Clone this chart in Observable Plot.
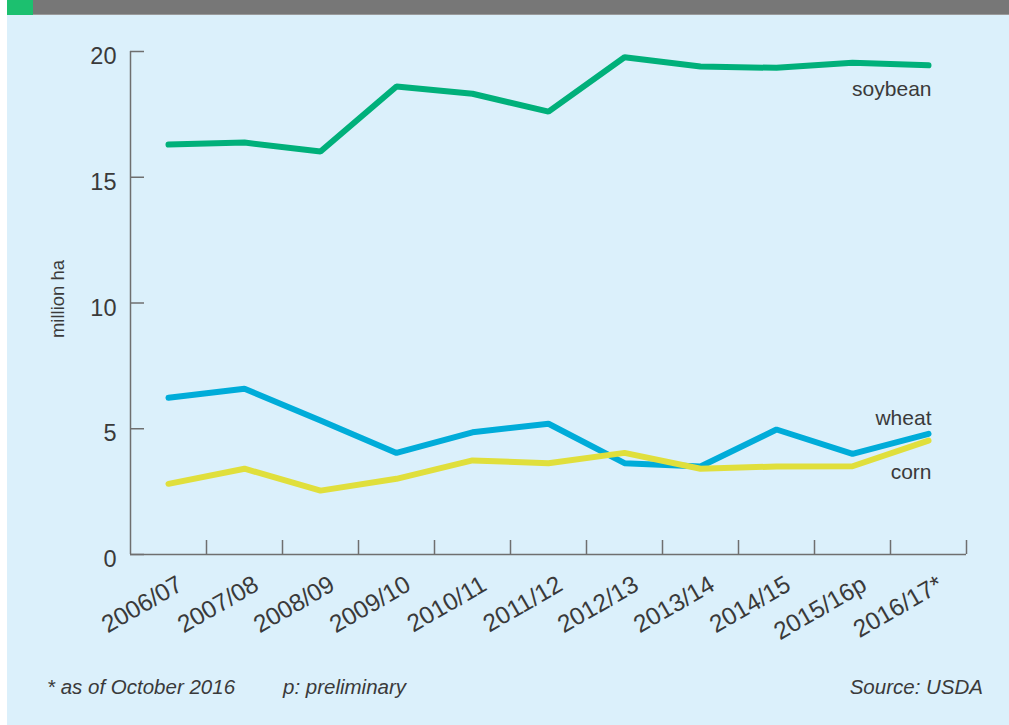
<!DOCTYPE html>
<html>
<head>
<meta charset="utf-8">
<script src="https://cdn.jsdelivr.net/npm/d3@7"></script>
<script src="https://cdn.jsdelivr.net/npm/@observablehq/plot@0.6"></script>
<style>
  html, body { margin: 0; padding: 0; background: #ffffff; }
  #wrap { position: relative; width: 1009px; height: 725px; overflow: hidden; background: #ffffff; font-family: "Liberation Sans", Arial, sans-serif; }
  #panel { position: absolute; left: 7px; top: 0; width: 1002px; height: 725px; background: #dbf0fb; }
  #hbar { position: absolute; left: 33px; top: 0; width: 976px; height: 14px; background: #777777; border-bottom: 1px solid #9a9a9a; }
  #hgreen { position: absolute; left: 7px; top: 0; width: 26px; height: 15px; background: #1cc06f; }
  #chart { position: absolute; left: 0; top: 0; }
  .foot { position: absolute; top: 675px; font-style: italic; font-size: 20.5px; color: #3a3a3a; white-space: nowrap; }
</style>
</head>
<body>
<div id="wrap">
  <div id="panel"></div>
  <div id="hbar"></div>
  <div id="hgreen"></div>
  <div id="chart"></div>
  <div class="foot" style="left:47px;">* as of October 2016</div>
  <div class="foot" style="left:283px;">p: preliminary</div>
  <div class="foot" style="right:26px;">Source: USDA</div>
</div>
<script>
// ---- data (million ha) ----
const seasons = ["2006/07", "2007/08", "2008/09", "2009/10", "2010/11", "2011/12",
                 "2012/13", "2013/14", "2014/15", "2015/16p", "2016/17*"];
const soybean = [16.30, 16.38, 16.02, 18.61, 18.32, 17.61, 19.77, 19.40, 19.35, 19.55, 19.45];
const wheat   = [6.23, 6.59, 5.33, 4.04, 4.86, 5.20, 3.63, 3.50, 4.97, 4.00, 4.80];
const corn    = [2.81, 3.41, 2.54, 3.01, 3.74, 3.63, 4.04, 3.41, 3.50, 3.51, 4.53];
const yTicks  = [0, 5, 10, 15, 20];
const seriesNames = ["soybean", "wheat", "corn"];
const seriesColors = ["#00b07a", "#00acd9", "#e0df3c"];

// ---- derived tables ----
const seriesValues = [soybean, wheat, corn];
const rows = seriesNames.map((name, s) => seriesValues[s].map((v, i) => ({series: name, i, v})));
const boundaries = seasons.map((d, i) => i + 0.5);
const last = seasons.length - 1;

const W = 1009, H = 650;
const mTop = 51, mBottom = 96, mLeft = 130, mRight = 43;
const frameH = H - mTop - mBottom;
const frameW = W - mLeft - mRight;
const axisColor = "#6f6f6f";
const textColor = "#3a3a3a";

// label vertical offsets (px) relative to each series' last point
const labelDy = [24, -16, 32];

const chart = Plot.plot({
  width: W,
  height: H,
  marginTop: mTop,
  marginBottom: mBottom,
  marginLeft: mLeft,
  marginRight: mRight,
  style: {background: "transparent", fontFamily: "'Liberation Sans', Arial, sans-serif", color: textColor},
  x: {domain: [-0.5, seasons.length - 0.5], axis: null},
  y: {domain: [0, 20], axis: null},
  marks: [
    // y axis line & ticks (pointing inward)
    Plot.ruleX([-0.5], {stroke: axisColor, strokeWidth: 1.5}),
    Plot.ruleY(yTicks, {stroke: axisColor, strokeWidth: 1.5, insetRight: frameW - 14}),
    // x axis line & ticks at category boundaries (pointing inward)
    Plot.ruleY([0], {stroke: axisColor, strokeWidth: 1.5}),
    Plot.ruleX(boundaries, {stroke: axisColor, strokeWidth: 1.5, insetTop: frameH - 14}),
    // y tick labels
    Plot.axisY({ticks: yTicks, label: null, tickSize: 0, tickPadding: 14, fontSize: 23.5, dy: 5, fill: textColor}),
    // x tick labels
    Plot.text(seasons, {x: (d, i) => i, frameAnchor: "bottom", text: d => d, rotate: -30,
      textAnchor: "end", lineAnchor: "middle", dx: 12, dy: 28, fontSize: 24.5, fill: textColor}),
    // y axis title
    Plot.text(["million ha"], {frameAnchor: "left", textAnchor: "middle", dx: -72, dy: -4, rotate: -90,
      fontSize: 18.5, fill: textColor}),
    // lines
    ...rows.map((r, s) => Plot.line(r, {x: "i", y: "v", stroke: seriesColors[s], strokeWidth: 6,
      strokeLinecap: "round", strokeLinejoin: "miter"})),
    // series labels
    ...rows.map((r, s) => Plot.text([r[last]], {x: "i", y: "v", text: "series", textAnchor: "end",
      dx: 3, dy: labelDy[s], fontSize: 21, fill: textColor}))
  ]
});

document.getElementById("chart").appendChild(chart);
</script>
</body>
</html>
